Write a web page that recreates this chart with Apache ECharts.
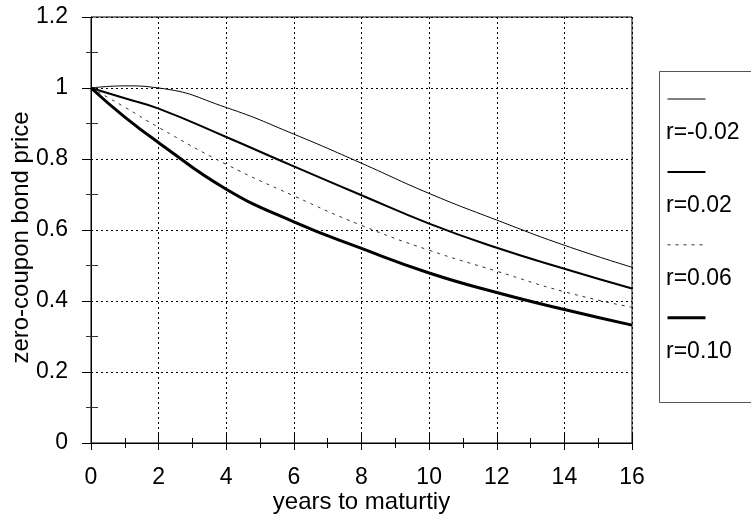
<!DOCTYPE html>
<html>
<head>
<meta charset="utf-8">
<script src="https://cdn.jsdelivr.net/npm/echarts@6/dist/echarts.min.js"></script>
<style>
html,body{margin:0;padding:0;background:#fff;}
#chart{width:751px;height:518px;}
</style>
</head>
<body>
<div id="chart"></div>
<script>
// Data
var years = [0, 1, 2, 4, 6, 8, 10, 12, 14, 16];
var rNeg002 = [1, 1.006, 1.0, 0.945, 0.870, 0.788, 0.703, 0.628, 0.557, 0.495];
var r002 = [1, 0.971, 0.942, 0.862, 0.779, 0.698, 0.618, 0.550, 0.491, 0.435];
var r006 = [1, 0.946, 0.889, 0.785, 0.696, 0.613, 0.543, 0.484, 0.426, 0.382];
var r010 = [1, 0.918, 0.846, 0.715, 0.623, 0.548, 0.479, 0.424, 0.376, 0.332];
var seriesNames = ['r=-0.02', 'r=0.02', 'r=0.06', 'r=0.10'];
var xTicks = { min: 0, max: 16, interval: 2 };
var yTicks = { min: 0, max: 1.2, interval: 0.2 };

function pairs(xs, ys) {
  return xs.map(function (x, i) { return [x, ys[i]]; });
}

var FONT = 'Liberation Sans, Arial, Helvetica, sans-serif';
var FS = 23;

var lineStyles = [
  { color: '#000', width: 1 },
  { color: '#000', width: 2 },
  { color: '#333', width: 1, type: [3, 5] },
  { color: '#000', width: 3 }
];

var chart = echarts.init(document.getElementById('chart'), null, { renderer: 'canvas' });

var gridDots = { show: true, lineStyle: { color: '#000', width: 1, type: [2, 3] } };

var option = {
  animation: false,
  backgroundColor: '#fff',
  grid: { left: 91, right: 119, top: 17, bottom: 75, outerBoundsMode: 'none', containLabel: false,
          show: true, borderColor: '#000', borderWidth: 1, backgroundColor: 'transparent' },
  legend: [
    {
      data: seriesNames.map(function (n, i) { return { name: n, lineStyle: lineStyles[i] }; }),
      orient: 'vertical', left: 666, top: 92, padding: 0,
      itemWidth: 38, itemHeight: 14, itemGap: 60.3,
      itemStyle: { opacity: 0 },
      formatter: function () { return ''; },
      selectedMode: false
    },
    {
      data: seriesNames.map(function (n) { return { name: n, icon: 'none' }; }),
      orient: 'vertical', left: 661, top: 120, padding: 0,
      itemWidth: 0, itemHeight: 26, itemGap: 48.3,
      textStyle: { fontFamily: FONT, fontSize: FS, color: '#000' },
      selectedMode: false
    }
  ],
  graphic: [
    { type: 'rect', left: 657, top: 69, shape: { width: 110, height: 331 }, style: { fill: 'none', stroke: '#555', lineWidth: 1 }, z: -1 }
  ],
  xAxis: [
    {
      type: 'value', min: xTicks.min, max: xTicks.max, interval: xTicks.interval, position: 'bottom',
      name: 'years to maturtiy', nameLocation: 'middle', nameGap: 47, nameMoveOverlap: false,
      nameTextStyle: { fontFamily: FONT, fontSize: 24, color: '#000' },
      axisLine: { show: true, lineStyle: { color: '#000', width: 1 } },
      axisTick: { show: true, inside: false, length: 7, lineStyle: { color: '#000' } },
      minorTick: { show: true, splitNumber: 2, length: 5, lineStyle: { color: '#000' } },
      axisLabel: { fontFamily: FONT, fontSize: FS, color: '#000', margin: 23 },
      splitLine: gridDots
    },
    {
      type: 'value', min: xTicks.min, max: xTicks.max, interval: xTicks.interval, position: 'bottom',
      axisLine: { show: false },
      axisTick: { show: true, inside: true, length: 10, lineStyle: { color: '#000' } },
      minorTick: { show: true, splitNumber: 2, length: 5, lineStyle: { color: '#000' } },
      axisLabel: { show: false },
      splitLine: { show: false }
    }
  ],
  yAxis: [
    {
      type: 'value', min: yTicks.min, max: yTicks.max, interval: yTicks.interval, position: 'left',
      name: 'zero-coupon bond price', nameLocation: 'middle', nameGap: 58, nameMoveOverlap: false,
      nameTextStyle: { fontFamily: FONT, fontSize: 24, color: '#000', padding: [0, 15, 0, 0] },
      axisLine: { show: true, lineStyle: { color: '#000', width: 1 } },
      axisTick: { show: true, inside: false, length: 9, lineStyle: { color: '#000' } },
      minorTick: { show: true, splitNumber: 2, length: 5, lineStyle: { color: '#333' } },
      axisLabel: { fontFamily: FONT, fontSize: FS, color: '#000', margin: 23 },
      splitLine: gridDots
    },
    {
      type: 'value', min: yTicks.min, max: yTicks.max, interval: yTicks.interval, position: 'left',
      axisLine: { show: false },
      axisTick: { show: false, inside: true },
      minorTick: { show: true, splitNumber: 2, length: 7, lineStyle: { color: '#333' } },
      axisLabel: { show: false },
      splitLine: { show: false }
    }
  ],
  series: seriesNames.map(function (n, i) {
    var vals = [rNeg002, r002, r006, r010][i];
    return {
      name: n, type: 'line', data: pairs(years, vals), symbol: 'none', smooth: 0.5,
      lineStyle: lineStyles[i], itemStyle: { color: lineStyles[i].color }
    };
  })
};
chart.setOption(option);
</script>
</body>
</html>
